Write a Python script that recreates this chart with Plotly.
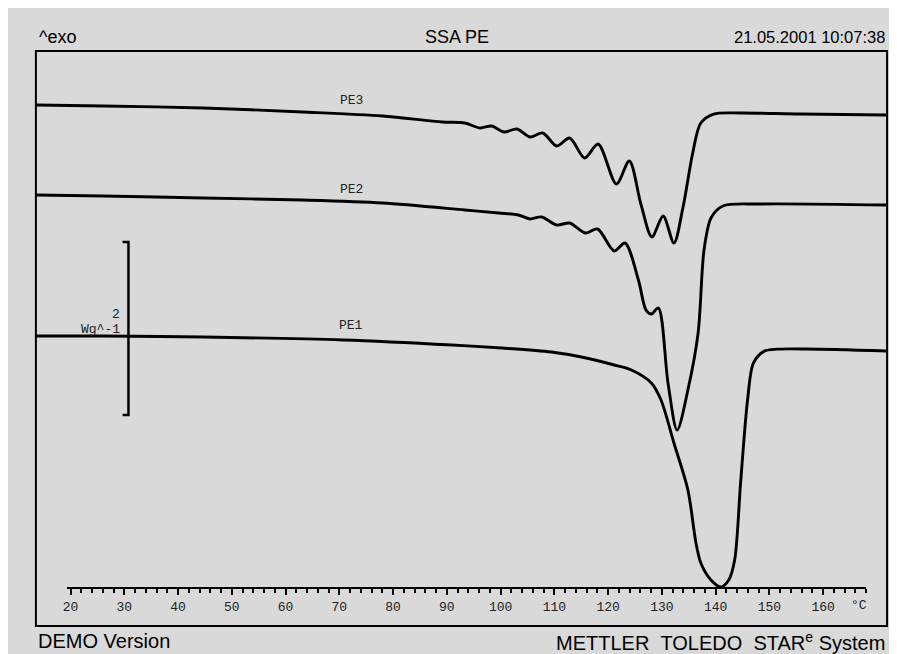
import plotly.graph_objects as go

W, H = 897, 654

# ---- data (temperature in °C, heat flow in W/g with display offsets) ----
pe3_T = [13.5, 26.1, 44.6, 63.1, 78.0, 89.1, 93.3, 96.1, 98.3, 100.6, 103.0, 105.4, 107.8,
         110.4, 112.8, 115.6, 118.1, 121.5, 123.9, 126.1, 128.1, 130.2, 132.2, 133.9,
         135.7, 137.2, 139.6, 144.6, 155.7, 171.7]
pe3_hf = [2.671, 2.659, 2.636, 2.590, 2.543, 2.474, 2.462, 2.405, 2.428, 2.358, 2.393, 2.301,
          2.347, 2.197, 2.289, 2.058, 2.220, 1.757, 2.023, 1.514, 1.145, 1.387, 1.075, 1.491,
          2.116, 2.462, 2.566, 2.578, 2.566, 2.555]

pe2_T = [13.5, 26.1, 44.6, 63.1, 78.0, 93.3, 99.6, 103.3, 105.4, 107.6, 110.4, 112.8, 115.7,
         118.0, 121.1, 123.1, 125.6, 127.0, 128.0, 129.3, 131.1, 132.8, 134.8, 136.7,
         137.8, 139.1, 141.3, 148.3, 171.7]
pe2_hf = [1.630, 1.618, 1.595, 1.572, 1.538, 1.457, 1.422, 1.399, 1.353, 1.376, 1.283, 1.306,
          1.191, 1.237, 0.983, 1.075, 0.647, 0.301, 0.254, 0.324, -0.543, -1.087, -0.624,
          0.035, 0.994, 1.364, 1.503, 1.526, 1.514]

pe1_T = [13.5, 26.1, 44.6, 70.6, 90.9, 100.2, 109.4, 115.0, 121.1, 124.3, 128.0, 129.8,
         132.2, 134.8, 136.3, 137.2, 139.1, 140.9, 142.4, 143.5, 144.6, 145.9, 147.0,
         149.0, 151.5, 157.0, 171.7]
pe1_hf = [0.0, 0.0, -0.012, -0.046, -0.104, -0.139, -0.185, -0.243, -0.335, -0.393, -0.543,
          -0.740, -1.237, -1.780, -2.393, -2.624, -2.821, -2.902, -2.821, -2.590, -1.699,
          -0.740, -0.312, -0.175, -0.152, -0.150, -0.173]

curve_names = ["PE3", "PE2", "PE1"]
label_T = 72.2
label_hf = [2.717, 1.688, 0.116]

scale_T = 30.74
scale_top, scale_len = 1.087, 2.0
scale_text = ["2", "Wg^-1"]

tick_major = 10
tick_minor = 2
axis_range = [19.3, 168.0]

title = "SSA PE"
left_head = "^exo"
date_text = "21.05.2001 10:07:38"
foot_left = "DEMO Version"
foot_right = "METTLER\u00a0\u00a0TOLEDO\u00a0\u00a0STAR<sup>e</sup>\u00a0System"

# ---- page-pixel -> paper helpers (layout only; page has an 8px body margin) ----
OFF = 8

def px(x):
    return (x - OFF) / W

def py(y):
    return 1 - (y - OFF) / H

x_full = [20 + (OFF - 67) / 5.4, 20 + (OFF + W - 67) / 5.4]
y_full = [(336 - OFF - H) / 86.5, (336 - OFF) / 86.5]

fig = go.Figure()
for T, hf in [(pe3_T, pe3_hf), (pe2_T, pe2_hf), (pe1_T, pe1_hf)]:
    fig.add_trace(go.Scatter(x=T, y=hf, mode="lines",
                             line=dict(color="black", width=2.9, shape="spline", smoothing=0.85),
                             hoverinfo="skip", showlegend=False))

# scale bar
sb_x = [scale_T - 1.1, scale_T, scale_T, scale_T - 1.1]
sb_y = [scale_top, scale_top, scale_top - scale_len, scale_top - scale_len]
fig.add_trace(go.Scatter(x=sb_x, y=sb_y, mode="lines",
                         line=dict(color="black", width=2.5), hoverinfo="skip", showlegend=False))

# invisible trace to carry the temperature axis
fig.add_trace(go.Scatter(x=axis_range, y=[0, 0], xaxis="x2", yaxis="y2", mode="lines",
                         line=dict(width=0), hoverinfo="skip", showlegend=False))

mono = "Liberation Mono"
fig.update_layout(
    width=W, height=H, autosize=False,
    margin=dict(l=0, r=0, t=0, b=0),
    paper_bgcolor="#d9d9d9", plot_bgcolor="rgba(0,0,0,0)",
    xaxis=dict(domain=[0, 1], range=x_full, visible=False, fixedrange=True),
    yaxis=dict(domain=[0, 1], range=y_full, visible=False, fixedrange=True),
    xaxis2=dict(domain=[px(63), px(866)], range=axis_range, anchor="free", position=py(588),
                showline=True, linecolor="black", linewidth=2, showgrid=False, zeroline=False,
                ticks="outside", ticklen=6, tickwidth=2, tickcolor="black",
                tick0=0, dtick=tick_major,
                minor=dict(ticks="outside", ticklen=4, tickwidth=2, tickcolor="black",
                           dtick=tick_minor, tick0=0, showgrid=False),
                tickfont=dict(family=mono, size=13, color="#222"),
                ticklabelstandoff=0),
    yaxis2=dict(domain=[0, 1], range=[0, 1], visible=False, anchor="x2"),
    font=dict(family="Liberation Sans", color="black"),
    shapes=[
        dict(type="rect", xref="paper", yref="paper", x0=px(32), x1=px(887), y0=py(626), y1=py(51),
             line=dict(color="black", width=2), fillcolor="rgba(0,0,0,0)"),
    ],
)

ann = []
head_y = py(37)
ann.append(dict(text=left_head, x=px(33), y=head_y, xanchor="left", yanchor="middle", size=18))
ann.append(dict(text=title, x=px(455), y=head_y, xanchor="center", yanchor="middle", size=18))
ann.append(dict(text=date_text, x=px(887), y=head_y, xanchor="right", yanchor="middle", size=16.5))
foot_y = py(641)
ann.append(dict(text=foot_left, x=px(32), y=foot_y, xanchor="left", yanchor="middle", size=20))
ann.append(dict(text=foot_right, x=px(887), y=foot_y, xanchor="right", yanchor="middle", size=20))
for a in ann:
    s = a.pop("size")
    a.update(xref="paper", yref="paper", showarrow=False,
             font=dict(family="Liberation Sans", size=s, color="black"))
for name, yv in zip(curve_names, label_hf):
    ann.append(dict(text=name, x=label_T, y=yv, xref="x", yref="y", showarrow=False,
                    xanchor="center", yanchor="middle",
                    font=dict(family=mono, size=13, color="#222")))
ann.append(dict(text=scale_text[0], x=px(118), y=py(314), xref="paper", yref="paper",
                showarrow=False, xanchor="right", yanchor="middle",
                font=dict(family=mono, size=13, color="#222")))
ann.append(dict(text=scale_text[1], x=px(118), y=py(329), xref="paper", yref="paper",
                showarrow=False, xanchor="right", yanchor="middle",
                font=dict(family=mono, size=13, color="#222")))
ann.append(dict(text="°C", x=166.7, y=py(605), xref="x", yref="paper", showarrow=False,
                xanchor="center", yanchor="middle",
                font=dict(family=mono, size=13, color="#222")))
fig.update_layout(annotations=ann)

fig.write_html("out.html")
